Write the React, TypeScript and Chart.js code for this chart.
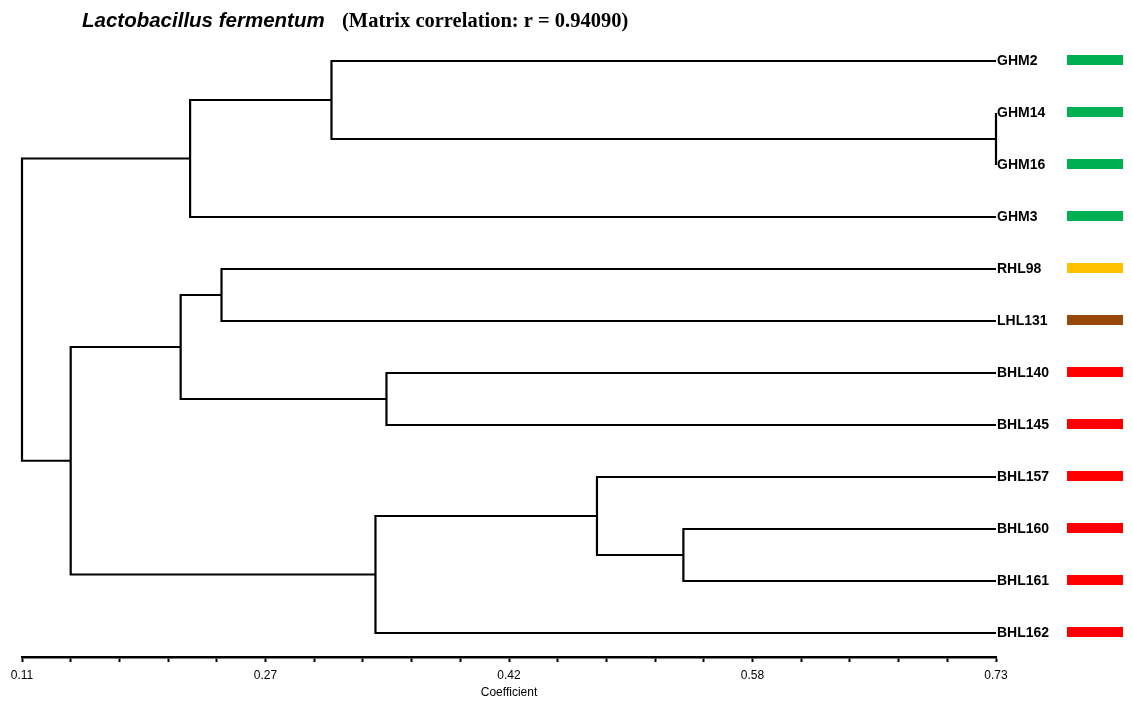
import { useEffect, useRef } from 'react';
import { Chart, registerables } from 'chart.js';

Chart.register(...registerables);

// Leaves (top to bottom)
const leafNames = ['GHM2', 'GHM14', 'GHM16', 'GHM3', 'RHL98', 'LHL131', 'BHL140', 'BHL145', 'BHL157', 'BHL160', 'BHL161', 'BHL162'];
const leafColors = ['#00B050', '#00B050', '#00B050', '#00B050', '#FFC000', '#984806', '#FF0000', '#FF0000', '#FF0000', '#FF0000', '#FF0000', '#FF0000'];
const leafCoefficient = 0.73;

// Merges (linkage): ids < 12 are leaves, id 12 + k is merge k
const mergeA = [1, 0, 13, 4, 6, 15, 9, 8, 19, 17, 14];
const mergeB = [2, 12, 3, 5, 7, 16, 10, 18, 11, 20, 21];
const mergeCoef = [0.73, 0.307, 0.217, 0.237, 0.342, 0.211, 0.531, 0.476, 0.335, 0.141, 0.11];

// Axis
const xMin = 0.11;
const xMax = 0.73;
const xTickLabels = ['0.11', '0.27', '0.42', '0.58', '0.73'];
const minorPerMajor = 5;

const titleSpecies = 'Lactobacillus fermentum';
const titleStat = '(Matrix correlation: r = 0.94090)';
const axisTitle = 'Coefficient';

function buildDatasets() {
  const nodeX: number[] = leafNames.map(() => leafCoefficient);
  const nodeY: number[] = leafNames.map((_, i) => i);
  const sets: any[] = [];
  mergeCoef.forEach((c, k) => {
    const a = mergeA[k];
    const b = mergeB[k];
    const id = leafNames.length + k;
    nodeX[id] = c;
    nodeY[id] = (nodeY[a] + nodeY[b]) / 2;
    sets.push({
      type: 'scatter',
      showLine: true,
      data: [
        { x: nodeX[a], y: nodeY[a] },
        { x: c, y: nodeY[a] },
        { x: c, y: nodeY[b] },
        { x: nodeX[b], y: nodeY[b] },
      ],
      borderColor: '#000000',
      borderWidth: 2.2,
      pointRadius: 0,
      pointHoverRadius: 0,
      borderJoinStyle: 'miter',
      borderCapStyle: 'butt',
      tension: 0,
      clip: false,
    });
  });
  return sets;
}

const decorPlugin = {
  id: 'decor',
  afterDraw(chart: any) {
    const ctx = chart.ctx as CanvasRenderingContext2D;
    const y = chart.scales.y;
    ctx.save();
    leafNames.forEach((_, i) => {
      const py = y.getPixelForValue(i);
      ctx.fillStyle = leafColors[i];
      ctx.fillRect(1067, py - 6, 56, 10);
    });
    ctx.fillStyle = '#000000';
    ctx.textBaseline = 'alphabetic';
    ctx.textAlign = 'left';
    ctx.font = 'italic bold 20.5px "Liberation Sans", Arial, sans-serif';
    ctx.fillText(titleSpecies, 82, 27);
    ctx.font = 'bold 20.5px "Liberation Serif", "Times New Roman", serif';
    ctx.fillText(titleStat, 342, 27);
    ctx.restore();
  },
};

export default function App() {
  const ref = useRef<HTMLCanvasElement | null>(null);

  useEffect(() => {
    document.body.style.margin = '0';
    if (!ref.current) return;
    const step = (xMax - xMin) / ((xTickLabels.length - 1) * minorPerMajor);
    const chart = new Chart(ref.current, {
      type: 'scatter',
      data: { datasets: buildDatasets() },
      plugins: [decorPlugin],
      options: {
        animation: false,
        responsive: true,
        maintainAspectRatio: false,
        events: [],
        layout: { padding: { top: 35, left: 22, right: 0, bottom: 1.2 } },
        plugins: {
          legend: { display: false },
          tooltip: { enabled: false },
          title: { display: false },
        },
        scales: {
          x: {
            type: 'linear',
            min: xMin,
            max: xMax,
            afterBuildTicks: (scale: any) => {
              const n = (xTickLabels.length - 1) * minorPerMajor;
              const t = [];
              for (let i = 0; i <= n; i++) t.push({ value: xMin + i * step });
              scale.ticks = t;
            },
            afterFit: (scale: any) => {
              scale.height = 42.8;
            },
            ticks: {
              autoSkip: false,
              maxRotation: 0,
              padding: 6,
              color: '#000000',
              font: { family: '"Liberation Sans", Arial, sans-serif', size: 12 },
              callback: (_v: any, i: number) => (i % minorPerMajor === 0 ? xTickLabels[i / minorPerMajor] : ''),
            },
            grid: {
              display: true,
              drawOnChartArea: false,
              drawTicks: true,
              tickLength: 5,
              tickWidth: 2,
              tickColor: '#000000',
            },
            border: { display: true, color: '#000000', width: 2.5 },
            title: {
              display: true,
              text: axisTitle,
              color: '#000000',
              font: { family: '"Liberation Sans", Arial, sans-serif', size: 12 },
              padding: { top: 0, bottom: 0 },
            },
          },
          y: {
            type: 'linear',
            position: 'right',
            reverse: true,
            min: -0.5,
            max: -0.5 + 622 / 52,
            afterBuildTicks: (scale: any) => {
              scale.ticks = leafNames.map((_, i) => ({ value: i }));
            },
            afterFit: (scale: any) => {
              scale.width = 136;
            },
            ticks: {
              autoSkip: false,
              padding: 1,
              color: '#000000',
              font: { family: '"Liberation Sans", Arial, sans-serif', size: 14, weight: 'bold' },
              callback: (v: any) => leafNames[v] ?? '',
            },
            grid: { display: false, drawTicks: false, tickLength: 0 },
            border: { display: false },
          },
        },
      },
    });
    return () => chart.destroy();
  }, []);

  return (
    <div style={{ position: 'absolute', left: 0, top: 0, width: 1132, height: 701 }}>
      <canvas ref={ref} />
    </div>
  );
}
